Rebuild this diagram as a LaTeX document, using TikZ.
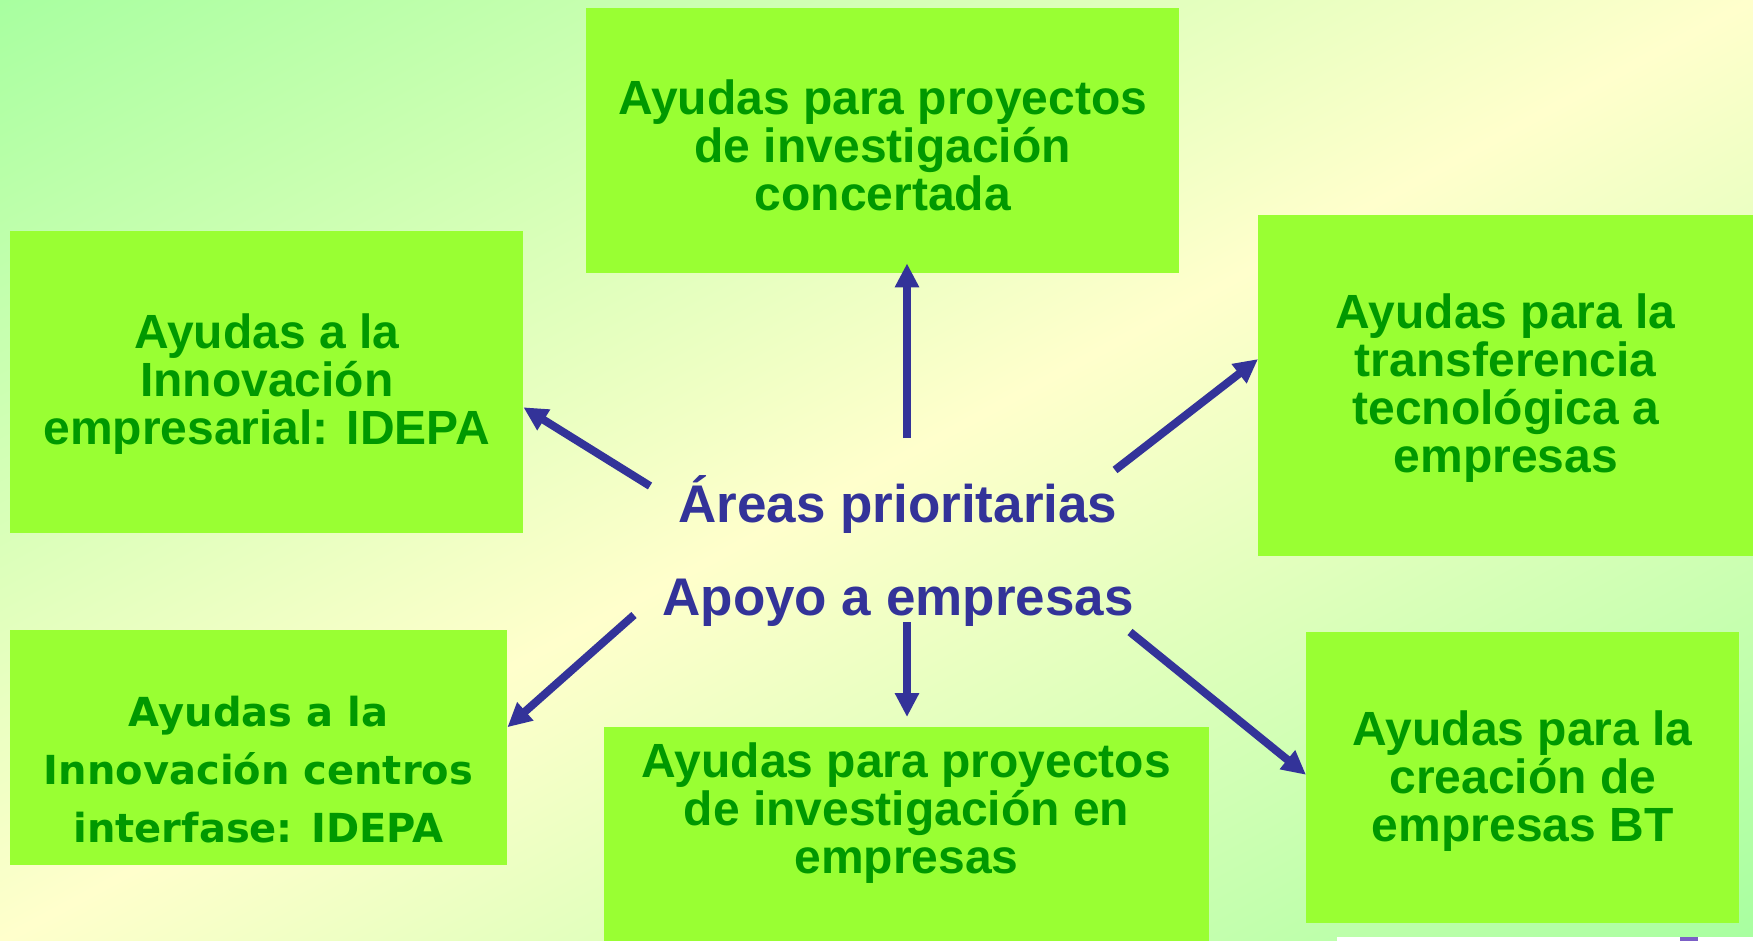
\documentclass[tikz,border=0pt]{standalone}
\usepackage{fontspec}
\setmainfont{Liberation Sans}
\newfontfamily\comicfont{DejaVu Sans}
\usetikzlibrary{arrows.meta,calc}
\definecolor{boxfill}{HTML}{99FF33}
\definecolor{txtgreen}{HTML}{009900}
\definecolor{navy}{HTML}{333399}
\definecolor{bgG}{HTML}{A8FFA0}
\definecolor{bgY}{HTML}{FFFFCC}
\definecolor{marker}{HTML}{7B5FC6}
\begin{document}
\begin{tikzpicture}[x=1pt,y=-1pt,
  boxshape/.style={fill=boxfill, draw=none, inner sep=0pt, anchor=north west},
  boxtext/.style={inner sep=0pt, align=center, text=txtgreen, font=\bfseries\fontsize{48}{48}\selectfont},
  comictext/.style={inner sep=0pt, align=center, text=txtgreen, font=\comicfont\bfseries\fontsize{40}{58}\selectfont},
  center text/.style={inner sep=0pt, anchor=base, text=navy, font=\bfseries\fontsize{53}{60}\selectfont},
  arr/.style={draw=navy, line width=8pt, -{Triangle[length=24pt,width=23pt]}}]
\useasboundingbox (0,0) rectangle (1753,941);
% background gradient
\begin{scope}
\clip (0,0) rectangle (1753,941);
\begin{scope}[transform canvas={rotate around={-61.77:(876.5,470.5)}}]
\shade[left color=bgG, right color=bgG, middle color=bgY] (47.5,-529.5) rectangle (1705.5,1470.5);
\end{scope}
\end{scope}
\fill[white] (1337,937) rectangle (1753,941);
\fill[marker] (1680,937) rectangle (1698,941);
% boxes
\node[boxshape, minimum width=593pt, minimum height=265pt] (top) at (586,8) {};
\node[boxshape, minimum width=513pt, minimum height=302pt] (left) at (10,231) {};
\node[boxshape, minimum width=495pt, minimum height=341pt] (right) at (1258,215) {};
\node[boxshape, minimum width=497pt, minimum height=235pt] (botleft) at (10,630) {};
\node[boxshape, minimum width=605pt, minimum height=220pt] (botmid) at (604,727) {};
\node[boxshape, minimum width=433pt, minimum height=291pt] (botright) at (1306,632) {};
% box texts
\node[boxtext] (toptext) at ([yshift=-5pt]top.center)
  {Ayudas para proyectos\\de investigación\\concertada};
\node[boxtext] (lefttext) at ([yshift=-2pt]left.center)
  {Ayudas a la\\Innovación\\empresarial: IDEPA};
\node[boxtext] (righttext) at ([yshift=-2pt]right.center)
  {Ayudas para la\\transferencia\\tecnológica a\\empresas};
\node[comictext] (botlefttext) at (258.5,770)
  {Ayudas a la\\Innovación centros\\interfase: IDEPA};
\node[boxtext] (botmidtext) at (906.5,813)
  {Ayudas para proyectos\\de investigación en\\empresas};
\node[boxtext] (botrighttext) at ([yshift=-3pt]botright.center)
  {Ayudas para la\\creación de\\empresas BT};
% centre
\node[center text] (areas) at (898,522) {Áreas prioritarias};
\node[center text] (apoyo) at (898,615) {Apoyo a empresas};
% arrow tails
\coordinate (tup) at (907,438);
\coordinate (tul) at (650,486);
\coordinate (tur) at (1115,470);
\coordinate (tll) at (634,615);
\coordinate (tdn) at (907,622);
\coordinate (tlr) at (1130,632);
% arrows
\draw[arr, shorten >=-10pt] (tup) -- (tup |- top.south);
\draw[arr] (tul) -- ($(left.north east)!0.583!(left.south east)$);
\draw[arr] (tur) -- ($(right.north west)!0.422!(right.south west)$);
\draw[arr] (tll) -- ($(botleft.north east)!0.413!(botleft.south east)$);
\draw[arr, shorten >=10pt] (tdn) -- (tdn |- botmid.north);
\draw[arr] (tlr) -- ($(botright.north west)!0.49!(botright.south west)$);
\end{tikzpicture}
\end{document}
